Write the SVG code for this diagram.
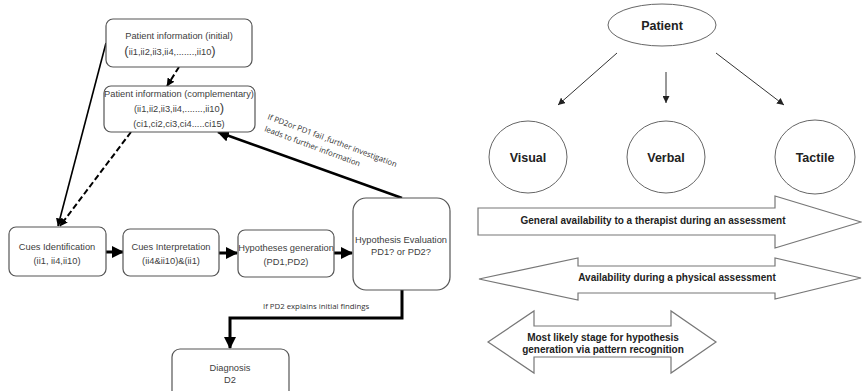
<svg xmlns="http://www.w3.org/2000/svg" width="862" height="391" viewBox="0 0 862 391">
<style>
.box{fill:#fff;stroke:#555;stroke-width:1.2}
.t{font-family:"Liberation Sans",Arial,sans-serif;font-size:9.3px;fill:#404040;text-anchor:middle}
.lbl{font-family:"Open Sans","Liberation Sans",sans-serif;font-size:7.8px;fill:#333}
.b{font-family:"Liberation Sans",Arial,sans-serif;font-weight:bold;font-size:10px;fill:#222;text-anchor:middle}
.bl{font-family:"Liberation Sans",Arial,sans-serif;font-weight:bold;font-size:12.5px;fill:#222;text-anchor:middle}
.node{fill:#fff;stroke:#666;stroke-width:1}
.blk{fill:#fff;stroke:#777;stroke-width:1.2}
.thick{fill:none;stroke:#000;stroke-width:3}
.thin{fill:none;stroke:#000;stroke-width:1.6}
.dash{fill:none;stroke:#000;stroke-width:2;stroke-dasharray:6 3}
.rarr{fill:none;stroke:#333;stroke-width:1}
.par{font-size:13px}
</style>
<defs>
<marker id="ah" markerUnits="userSpaceOnUse" markerWidth="12" markerHeight="12" viewBox="0 0 12 12" refX="11" refY="6" orient="auto"><path d="M0,0 L12,6 L0,12 Z" fill="#000"/></marker>
<marker id="ahs" markerUnits="userSpaceOnUse" markerWidth="8" markerHeight="8" viewBox="0 0 8 8" refX="7.5" refY="4" orient="auto"><path d="M0,0 L8,4 L0,8 Z" fill="#000"/></marker>
<marker id="aht" markerUnits="userSpaceOnUse" markerWidth="7" markerHeight="7" viewBox="0 0 7 7" refX="7" refY="3.5" orient="auto"><path d="M0,0 L7,3.5 L0,7 Z" fill="#222"/></marker>
</defs>

<g id="connectors">
<line class="thin" x1="106" y1="43" x2="58" y2="226" marker-end="url(#ahs)"/>
<line class="dash" x1="179" y1="67" x2="167" y2="86" marker-end="url(#ahs)"/>
<line class="dash" x1="131" y1="132" x2="60" y2="226" marker-end="url(#ahs)"/>
<line class="thick" x1="106" y1="252" x2="123" y2="252" marker-end="url(#ah)"/>
<line class="thick" x1="219" y1="253" x2="237" y2="253" marker-end="url(#ah)"/>
<line class="thick" x1="334" y1="253" x2="352" y2="253" marker-end="url(#ah)"/>
<line class="thick" x1="402" y1="198" x2="218" y2="132" marker-end="url(#ah)" style="stroke-width:2.5"/>
<polyline class="thick" points="402,290 402,318 230,318 230,348" marker-end="url(#ah)"/>
<text class="lbl" transform="translate(267,119) rotate(20.5)">If PD2or PD1 fail ,further investigation</text>
<text class="lbl" transform="translate(264,131) rotate(20.5)">leads to further information</text>
<text class="lbl" x="263" y="309">If PD2 explains initial findings</text>
<line class="rarr" x1="617" y1="53" x2="558" y2="105" marker-end="url(#aht)"/>
<line class="rarr" x1="666" y1="72" x2="666" y2="103" marker-end="url(#aht)"/>
<line class="rarr" x1="716" y1="53" x2="784" y2="105" marker-end="url(#aht)"/>
</g>

<g id="pi-initial">
<rect class="box" x="106" y="19" width="146" height="48" rx="7"/>
<text class="t" x="179" y="39">Patient information (initial)</text>
<text class="t" x="170" y="55"><tspan class="par">(</tspan>ii1,ii2,ii3,ii4,.......,ii10<tspan class="par">)</tspan></text>
</g>
<g id="pi-complementary">
<rect class="box" x="104" y="86" width="151" height="46" rx="7"/>
<text class="t" x="179" y="97">Patient information (complementary)</text>
<text class="t" x="179" y="112">(ii1,ii2,ii3,ii4,.......,ii10<tspan class="par">)</tspan></text>
<text class="t" x="179" y="127">(ci1,ci2,ci3,ci4.....ci15)</text>
</g>
<g id="cues-identification">
<rect class="box" x="9" y="227" width="97" height="49" rx="7"/>
<text class="t" x="57" y="250">Cues Identification</text>
<text class="t" x="57" y="264">(ii1, ii4,ii10)</text>
</g>
<g id="cues-interpretation">
<rect class="box" x="123" y="229" width="96" height="47" rx="7"/>
<text class="t" x="171" y="250">Cues Interpretation</text>
<text class="t" x="171" y="264">(ii4&amp;ii10)&amp;(ii1)</text>
</g>
<g id="hypotheses-generation">
<rect class="box" x="238" y="230" width="96" height="47" rx="7"/>
<text class="t" x="286" y="251">Hypotheses generation</text>
<text class="t" x="286" y="265">(PD1,PD2)</text>
</g>
<g id="hypothesis-evaluation">
<rect class="box" x="353" y="198" width="97" height="92" rx="13"/>
<text class="t" x="401" y="243">Hypothesis Evaluation</text>
<text class="t" x="401" y="255">PD1? or PD2?</text>
</g>
<g id="diagnosis">
<rect class="box" x="172" y="349" width="117" height="60" rx="8"/>
<text class="t" x="230" y="371">Diagnosis</text>
<text class="t" x="230" y="383">D2</text>
</g>

<g id="patient">
<ellipse class="node" cx="662" cy="25" rx="54" ry="21"/>
<text class="bl" x="662" y="29.5">Patient</text>
</g>
<g id="visual">
<ellipse class="node" cx="528" cy="157" rx="39" ry="36"/>
<text class="bl" x="528" y="161.5">Visual</text>
</g>
<g id="verbal">
<ellipse class="node" cx="666" cy="157" rx="39" ry="36"/>
<text class="bl" x="666" y="161.5">Verbal</text>
</g>
<g id="tactile">
<ellipse class="node" cx="815" cy="157" rx="40" ry="37"/>
<text class="bl" x="815" y="161.5">Tactile</text>
</g>
<g id="general-availability">
<polygon class="blk" points="478,208 775,208 775,196 861,222 775,248 775,235 478,235"/>
<text class="b" x="653" y="223.5">General availability to a therapist during an assessment</text>
</g>
<g id="physical-availability">
<polygon class="blk" points="479,279 578,258 578,266 775,266 775,258 861,278 775,299 775,293 578,293 578,300"/>
<text class="b" x="677" y="280.5">Availability during a physical assessment</text>
</g>
<g id="pattern-recognition">
<polygon class="blk" points="488,342 534,311 534,326 671,326 671,311 716,342 671,373 671,357 534,357 534,373"/>
<text class="b" x="603" y="340.5">Most likely stage for hypothesis</text>
<text class="b" x="603" y="352.5">generation via pattern recognition</text>
</g>
</svg>
